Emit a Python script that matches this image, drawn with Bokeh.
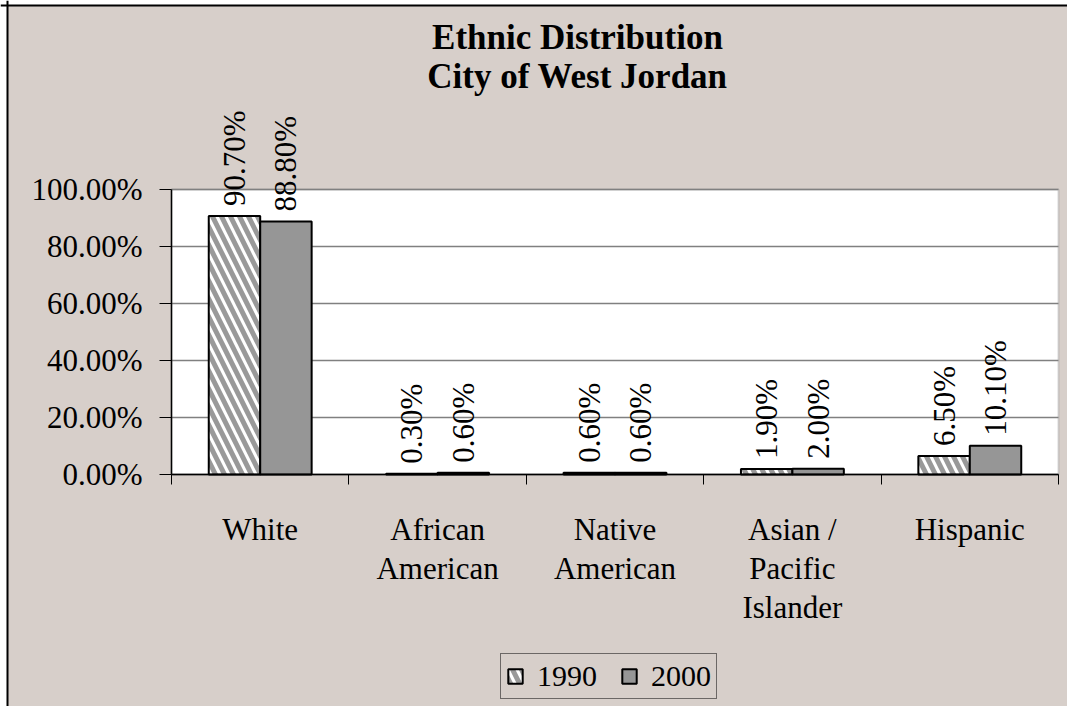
from math import pi
from bokeh.plotting import figure
from bokeh.models import (ColumnDataSource, FixedTicker, PrintfTickFormatter, Range1d,
                          LabelSet, Label, Legend, LegendItem, BoxAnnotation, Grid, Span)
from bokeh.embed import file_html
from bokeh.resources import INLINE

categories = ["White", "African\nAmerican", "Native\nAmerican", "Asian /\nPacific\nIslander", "Hispanic"]
values_1990 = [90.7, 0.3, 0.6, 1.9, 6.5]
values_2000 = [88.8, 0.6, 0.6, 2.0, 10.1]
years = ["1990", "2000"]
y_ticks = [0, 20, 40, 60, 80, 100]
title_text = "Ethnic Distribution\nCity of West Jordan"

BG = "#D7CFCA"
FONT = "Liberation Serif"

# layout (pixels, canvas coordinates from top-left)
W, H = 1067, 706
PLOT_LEFT, PLOT_RIGHT = 171, 1058
PLOT_TOP, PLOT_BOTTOM = 189, 474
n = len(categories)
px_x = (PLOT_RIGHT - PLOT_LEFT) / n
px_y = (PLOT_BOTTOM - PLOT_TOP) / max(y_ticks)
x_start, x_end = -PLOT_LEFT / px_x, n + (W - PLOT_RIGHT) / px_x
y_start, y_end = -(H - PLOT_BOTTOM) / px_y, max(y_ticks) + PLOT_TOP / px_y

centers = [i + 0.5 for i in range(n)]
boundaries = list(range(n + 1))
dodge = 0.145
bw = 0.29

src90 = ColumnDataSource(dict(x=[c - dodge for c in centers], top=values_1990,
                              label=[f"{v:.2f}%" for v in values_1990]))
src00 = ColumnDataSource(dict(x=[c + dodge for c in centers], top=values_2000,
                              label=[f"{v:.2f}%" for v in values_2000]))

p = figure(width=W, height=H, output_backend="svg", toolbar_location=None,
           x_range=Range1d(x_start, x_end), y_range=Range1d(y_start, y_end),
           min_border_left=0, min_border_right=0, min_border_top=0, min_border_bottom=0,
           background_fill_color="white", border_fill_color="white")
p.outline_line_color = None
p.xgrid.visible = False

# chart area (beige) with black left/top edge
chart_area = BoxAnnotation(left=7, right=W + 50, top=H - 5, bottom=-50,
                           left_units="screen", right_units="screen",
                           top_units="screen", bottom_units="screen",
                           fill_color=BG, fill_alpha=1, line_color=None, level="image")
p.add_layout(chart_area)
p.add_layout(Span(location=7, location_units="screen", dimension="height",
                  line_color="black", line_width=2, level="image"))
p.add_layout(Span(location=H - 5, location_units="screen", dimension="width",
                  line_color="black", line_width=2, level="image"))

plot_area = BoxAnnotation(left=0, right=n, bottom=0, top=max(y_ticks),
                          fill_color="white", fill_alpha=1, line_color="#808080",
                          line_width=2, level="image")
p.add_layout(plot_area)

if "cross_bounds" in Grid.properties():
    p.ygrid.cross_bounds = (0, n)
    p.ygrid.grid_line_color = "#808080"
    p.ygrid.grid_line_width = 1.5
else:
    p.ygrid.visible = False
    p.segment(x0=[0] * len(y_ticks), x1=[n] * len(y_ticks), y0=y_ticks, y1=y_ticks,
              line_color="#808080", line_width=1.5, level="underlay")

r1 = p.vbar(x="x", top="top", bottom=0, width=bw, source=src90, fill_color="white",
            line_color="black", line_width=2, hatch_pattern="left_diagonal_line",
            hatch_color="#999999", hatch_weight=5, hatch_scale=18)
r2 = p.vbar(x="x", top="top", bottom=0, width=bw, source=src00, fill_color="#969696",
            line_color="black", line_width=2)

for src in (src90, src00):
    p.add_layout(LabelSet(x="x", y="top", text="label", source=src, angle=pi / 2,
                          text_align="left", text_baseline="middle", y_offset=10,
                          text_font=FONT, text_font_size="31px", text_color="black"))

xa = p.xaxis[0]
xa.fixed_location = 0
xa.bounds = (0, n)
xa.ticker = FixedTicker(ticks=centers, minor_ticks=boundaries)
xa.major_label_overrides = {c: cat for c, cat in zip(centers, categories)}
xa.major_tick_out = 0
xa.major_tick_in = 0
xa.minor_tick_out = 10
xa.minor_tick_in = 0
xa.minor_tick_line_color = "black"
xa.axis_line_color = "black"
xa.axis_line_width = 1.5
xa.major_label_standoff = 27
xa.major_label_text_font = FONT
xa.major_label_text_font_size = "31px"
xa.major_label_text_line_height = 1.12
xa.major_label_text_color = "black"

ya = p.yaxis[0]
ya.fixed_location = 0
ya.bounds = (0, max(y_ticks))
ya.ticker = FixedTicker(ticks=y_ticks)
ya.formatter = PrintfTickFormatter(format="%.2f%%")
ya.major_tick_out = 12
ya.major_tick_in = 0
ya.minor_tick_out = 0
ya.minor_tick_in = 0
ya.major_tick_line_color = "black"
ya.axis_line_color = "black"
ya.axis_line_width = 1.5
ya.major_label_standoff = 17
ya.major_label_text_font = FONT
ya.major_label_text_font_size = "31px"
ya.major_label_text_color = "black"

legend = Legend(items=[LegendItem(label=years[0], renderers=[r1]),
                       LegendItem(label=years[1], renderers=[r2])],
                orientation="horizontal", location=(500, 7),
                border_line_color="black", border_line_width=1,
                background_fill_color=BG, background_fill_alpha=1,
                padding=5, spacing=23, label_standoff=13, margin=0,
                glyph_width=18, glyph_height=18,
                label_text_font=FONT, label_text_font_size="30px",
                label_text_color="black")
p.add_layout(legend)

p.add_layout(Label(x=577, y=H - 17, x_units="screen", y_units="screen", text=title_text,
                   text_align="center", text_baseline="top", text_font=FONT,
                   text_font_size="35px", text_font_style="bold", text_line_height=1.02,
                   text_color="black"))

open("out.html", "w").write(file_html(p, INLINE))
